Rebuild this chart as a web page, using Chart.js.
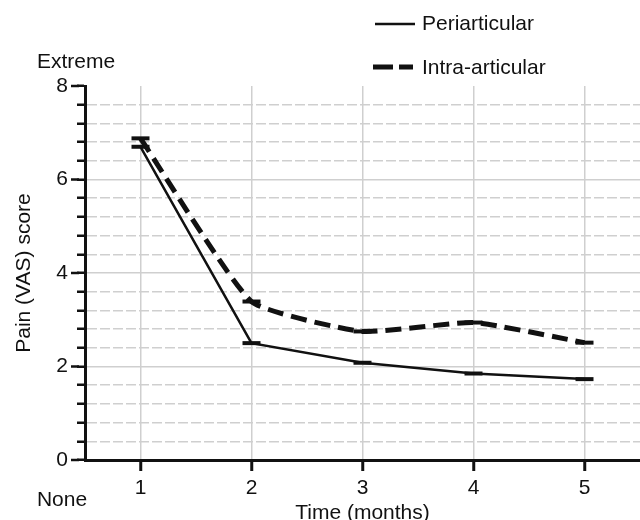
<!DOCTYPE html>
<html>
<head>
<meta charset="utf-8">
<script src="https://cdn.jsdelivr.net/npm/chart.js@4.4.1/dist/chart.umd.min.js"></script>
<style>
  html, body { margin: 0; padding: 0; background: #fff; }
  #wrap { width: 640px; height: 520px; }
</style>
</head>
<body>
<div id="wrap"><canvas id="painChart" width="640" height="520"></canvas></div>
<script>
// data
const months = [1, 2, 3, 4, 5];
const periarticular = [6.70, 2.50, 2.08, 1.85, 1.73];
const intraArticular = [6.88, 3.39, 2.75, 2.94, 2.51];
const yMajorTicks = [0, 2, 4, 6, 8];
const yMinorStep = 0.4;
const seriesNames = ['Periarticular', 'Intra-articular'];

const FONT = "'Liberation Sans', Arial, sans-serif";
const FSIZE = 21;

function toPoints(vals) {
    return months.map((m, i) => ({ x: m, y: vals[i] }));
}

// extra labels, x title, longer major ticks + legend drawn by hand
const extrasPlugin = {
    id: 'extras',
    afterDraw(chart) {
        const c = chart.ctx;
        const ys = chart.scales.y;
        const area = chart.chartArea;
        c.save();
        // major ticks on y are longer than minor ones
        c.strokeStyle = '#111';
        c.lineWidth = 2.5;
        yMajorTicks.forEach(v => {
            const py = ys.getPixelForValue(v);
            c.beginPath();
            c.moveTo(ys.right - 14, py);
            c.lineTo(ys.right - 6, py);
            c.stroke();
        });

        c.fillStyle = '#111';
        c.font = FSIZE + 'px ' + FONT;
        c.textBaseline = 'middle';
        c.textAlign = 'center';
        c.fillText('Extreme', 76, 62);
        c.fillText('None', 62, 500);
        c.fillText('Time (months)', (area.left + area.right) / 2, 513);

        // legend
        c.textAlign = 'left';
        c.lineWidth = 2.5;
        c.beginPath();
        c.moveTo(375, 24);
        c.lineTo(415, 24);
        c.stroke();
        c.fillText(seriesNames[0], 422, 24);

        c.lineWidth = 5;
        c.setLineDash([20, 6]);
        c.beginPath();
        c.moveTo(373, 67);
        c.lineTo(413, 67);
        c.stroke();
        c.setLineDash([]);
        c.fillText(seriesNames[1], 422, 68);
        c.restore();
    }
};

const ctx = document.getElementById('painChart').getContext('2d');
const painChart = new Chart(ctx, {
    type: 'line',
    data: {
        datasets: [{
            label: seriesNames[0],
            data: toPoints(periarticular),
            borderColor: '#111',
            borderWidth: 2.5,
            pointStyle: 'line',
            pointRadius: 9,
            pointBorderWidth: 4,
            pointBorderColor: '#111',
            tension: 0
        }, {
            label: seriesNames[1],
            data: toPoints(intraArticular),
            borderColor: '#111',
            borderWidth: 5,
            borderDash: [16, 8],
            pointStyle: 'line',
            pointRadius: 9,
            pointBorderWidth: 4,
            pointBorderColor: '#111',
            tension: 0.15
        }]
    },
    options: {
        responsive: false,
        animation: false,
        layout: { autoPadding: false, padding: { top: 86, right: 0, bottom: 0, left: 0 } },
        plugins: {
            legend: { display: false },
            tooltip: { enabled: false }
        },
        scales: {
            x: {
                type: 'linear',
                min: 0.5,
                max: 5.5,
                afterBuildTicks: s => { s.ticks = months.map(v => ({ value: v })); },
                afterFit: s => { s.height = 60; s.paddingRight = 0; s.paddingLeft = 0; },
                grid: {
                    color: '#cfcfcf',
                    lineWidth: 1.5,
                    tickColor: '#111',
                    tickWidth: 3,
                    tickLength: 11
                },
                border: { color: '#111', width: 3 },
                ticks: {
                    color: '#111',
                    font: { family: FONT, size: FSIZE },
                    padding: 5,
                    maxRotation: 0,
                    callback: v => String(v)
                }
            },
            y: {
                min: 0,
                max: 8,
                afterBuildTicks: s => {
                    const n = Math.round(8 / yMinorStep);
                    const t = [];
                    for (let i = 0; i <= n; i++) t.push({ value: Math.round(i * yMinorStep * 10) / 10 });
                    s.ticks = t;
                },
                afterFit: s => { s.width = 85; s.paddingTop = 0; s.paddingBottom = 0; },
                grid: {
                    color: c => {
                        if (!c.tick) return '#cfcfcf';
                        const v = c.tick.value;
                        if (v === 0 || v === 8) return 'rgba(0,0,0,0)';
                        return '#cfcfcf';
                    },
                    lineWidth: 1.5,
                    tickColor: '#111',
                    tickWidth: 2.5,
                    tickLength: 8
                },
                border: {
                    color: '#111',
                    width: 3,
                    dash: c => {
                        if (!c.tick) return [];
                        return yMajorTicks.includes(c.tick.value) ? [] : [10, 3];
                    }
                },
                ticks: {
                    color: '#111',
                    font: { family: FONT, size: FSIZE },
                    padding: 9,
                    autoSkip: false,
                    callback: v => yMajorTicks.includes(v) ? String(v) : ''
                },
                title: {
                    display: true,
                    text: 'Pain (VAS) score',
                    color: '#111',
                    font: { family: FONT, size: FSIZE },
                    padding: { top: 12, bottom: 0 }
                }
            }
        }
    },
    plugins: [extrasPlugin]
});
</script>
</body>
</html>
